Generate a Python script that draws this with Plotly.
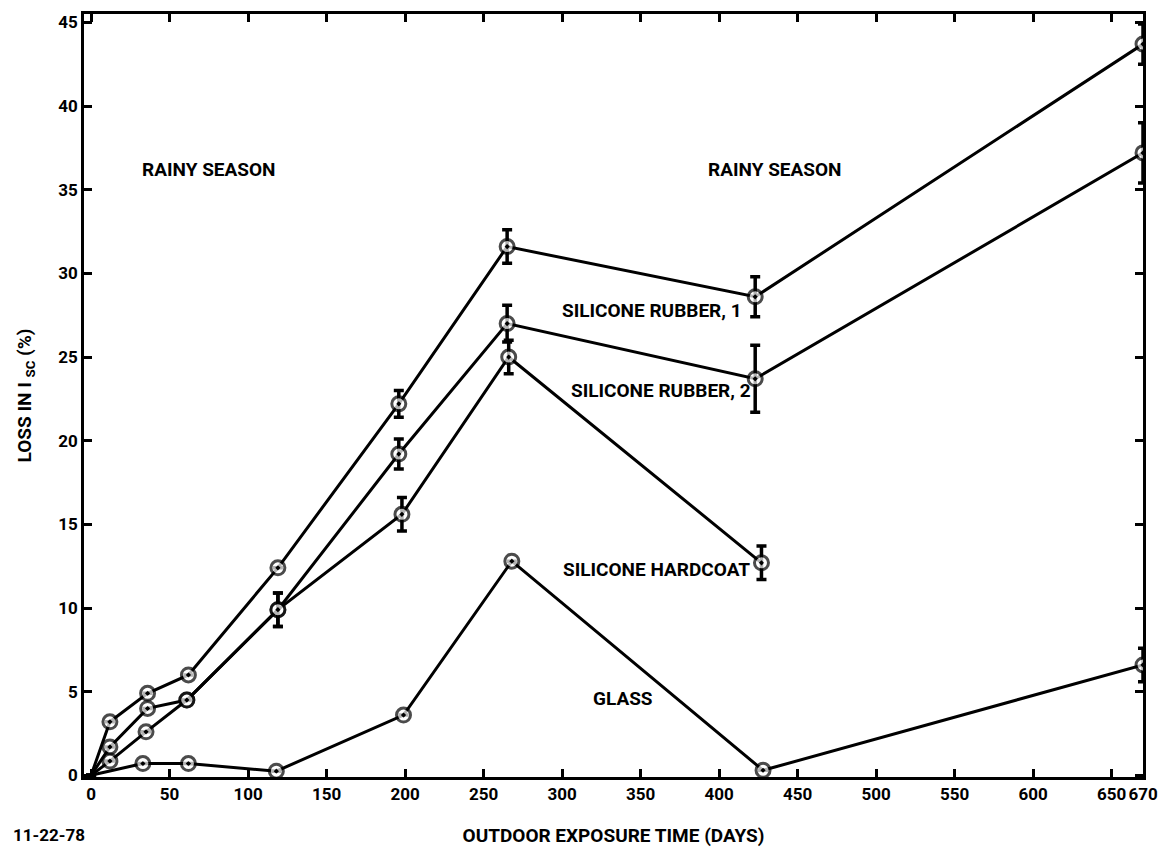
import plotly.graph_objects as go

# ---- data ----
sr1_days = [0, 12, 36, 62, 119, 196, 265, 423, 670]
sr1_loss = [0, 3.2, 4.9, 6.0, 12.4, 22.2, 31.6, 28.6, 43.7]
sr1_err = [None, None, None, None, None, 0.8, 1.0, 1.2, 1.2]

sr2_days = [0, 12, 36, 61, 119, 196, 265, 423, 670]
sr2_loss = [0, 1.7, 4.0, 4.5, 9.9, 19.2, 27.0, 23.7, 37.2]
sr2_err = [None, None, None, None, 1.0, 0.9, 1.1, 2.0, 1.8]

hc_days = [0, 12, 35, 61, 119, 198, 266, 427]
hc_loss = [0, 0.85, 2.6, 4.5, 9.9, 15.6, 25.0, 12.7]
hc_err = [None, None, None, None, 1.0, 1.0, 1.0, 1.0]

gl_days = [0, 33, 62, 118, 199, 268, 428, 670]
gl_loss = [0, 0.7, 0.7, 0.25, 3.6, 12.8, 0.3, 6.6]
gl_err = [None, None, None, None, None, None, None, 1.0]

x_tick_vals = [0, 50, 100, 150, 200, 250, 300, 350, 400, 450, 500, 550, 600, 650, 670]
x_tick_text = ["0", "50", "100", "150", "200", "250", "300", "350", "400", "450",
               "500", "550", "600", "650", "670"]
y_tick_vals = [0, 5, 10, 15, 20, 25, 30, 35, 40, 45]

labels = [
    ("RAINY SEASON", 75, 36.2),
    ("RAINY SEASON", 435, 36.2),
    ("SILICONE RUBBER, 1", 357, 27.8),
    ("SILICONE RUBBER, 2", 363, 23.0),
    ("SILICONE HARDCOAT", 360, 12.3),
    ("GLASS", 339, 4.6),
]
footnote = "11-22-78"
x_title = "OUTDOOR EXPOSURE TIME (DAYS)"
y_title = "LOSS IN I <sub>SC</sub> (%)"

FONT = "Roboto, Liberation Sans, sans-serif"

fig = go.Figure()

series = [
    (sr1_days, sr1_loss, sr1_err),
    (sr2_days, sr2_loss, sr2_err),
    (hc_days, hc_loss, hc_err),
    (gl_days, gl_loss, gl_err),
]
for days, loss, err in series:
    sizes = [0 if d == 0 else 14 for d in days]
    fig.add_trace(go.Scatter(
        x=days, y=loss, mode="lines+markers",
        line=dict(color="black", width=3),
        marker=dict(symbol="circle-dot", size=sizes, color="white",
                    line=dict(color="black", width=3)),
        error_y=dict(type="data", array=err, visible=True,
                     color="black", thickness=3.5, width=5),
        showlegend=False, hoverinfo="x+y",
    ))

for text, x, y in labels:
    fig.add_annotation(x=x, y=y, text=text, showarrow=False,
                       font=dict(family=FONT, size=19, color="black", weight="bold"))

fig.add_annotation(text=footnote, xref="paper", yref="paper", x=-0.069, y=-0.076,
                   xanchor="left", yanchor="middle", showarrow=False,
                   font=dict(family=FONT, size=17, color="black", weight="bold"))

axis_common = dict(
    showline=True, linecolor="black", linewidth=2.5, mirror="ticks",
    ticks="inside", ticklen=8, tickwidth=2.5, tickcolor="black",
    showgrid=False, zeroline=False, automargin=False, tickangle=0,
    tickfont=dict(family=FONT, size=17, color="black", weight="bold"),
)

fig.update_xaxes(
    range=[-4.5, 670], tickmode="array", tickvals=x_tick_vals, ticktext=x_tick_text,
    title=dict(text=x_title, standoff=26,
               font=dict(family=FONT, size=19, color="black", weight="bold")),
    **axis_common,
)
fig.update_yaxes(
    range=[-0.1, 45.5], tickmode="array", tickvals=y_tick_vals,
    title=dict(text=y_title, standoff=22,
               font=dict(family=FONT, size=19, color="black", weight="bold")),
    **axis_common,
)

fig.update_layout(
    width=1172, height=852,
    margin=dict(l=84, r=29, t=14, b=75),
    paper_bgcolor="white", plot_bgcolor="white",
    font=dict(family=FONT, color="black"),
)

fig.write_html("out.html", config={"displayModeBar": False},
               post_script="document.body.style.margin='0';document.body.style.overflow='hidden';")
